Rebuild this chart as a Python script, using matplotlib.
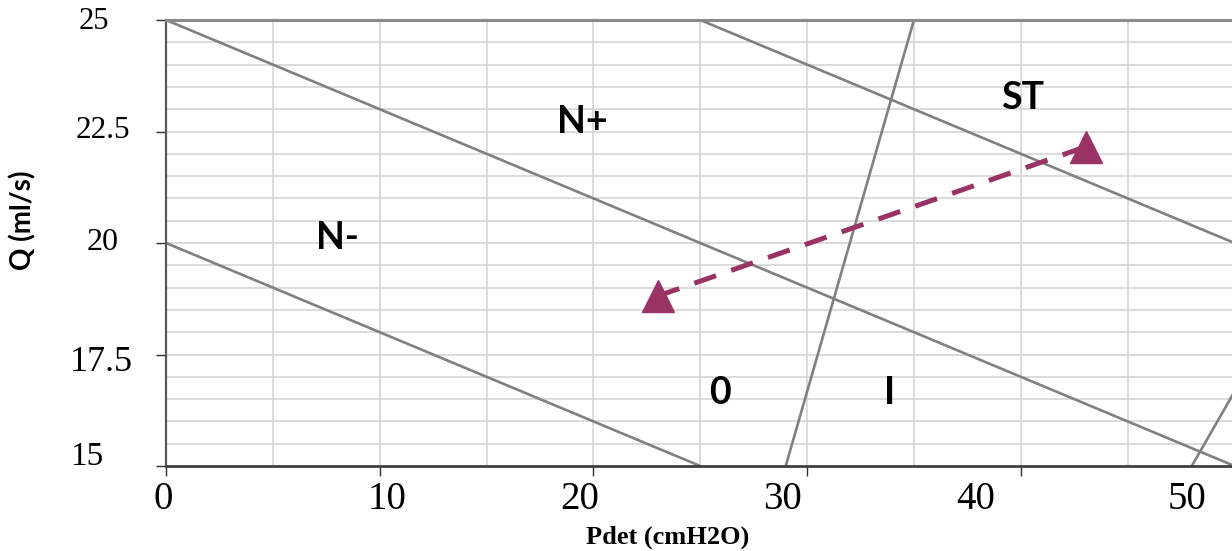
import numpy as np
import matplotlib.pyplot as plt
import matplotlib.transforms as mtransforms

# Datos del nomograma
x_ticks = [0, 10, 20, 30, 40]
x_ticklabels = ['0', '10', '20', '30', '40', '50']
y_ticks = [15, 17.5, 20, 22.5, 25]
y_ticklabels = ['15', '17.5', '20', '22.5', '25']

# Rectas de los límites entre zonas (x, y)
seg_x = [[0, 50], [0, 25], [25, 50], [29, 35], [48, 60]]
seg_y = [[25, 15], [20, 15], [25, 20], [15, 25], [15, 25]]

# Paciente: Pdet vs Q
pdet = [23.0, 43.05]
q = [18.81, 22.16]

# Etiquetas de zonas
zonas = ['N-', 'N+', 'ST', '0', 'I']
zonas_x = [8.0, 19.47, 40.1, 25.92, 33.88]
zonas_y = [20.11, 22.71, 23.25, 16.64, 16.64]

# posiciones de las etiquetas de los ejes (tal como aparecen en la imagen)
xlab_pos = [-0.15, 10.35, 19.35, 28.85, 37.9, 47.8]
ylab_px = [87, 101, 103, 103, 94]
ylab_pos = [15.2, 17.33, 20.0, 22.53, 24.96]
ylab_size = [24, 26, 23, 22.5, 22]

W, H = 1232, 551
fig = plt.figure(figsize=(W / 100, H / 100), dpi=100)
ax = fig.add_axes([166 / W, 1 - 466 / H, 1066 / W, 446 / H])

ax.set_xlim(0, 1066 / 21.37)
ax.set_ylim(15, 25)

# rejilla
for gx in np.arange(5, 50, 5):
    ax.axvline(gx, color='#d2d2d2', lw=1.1, zorder=0)
for gy in np.arange(15.5, 25, 0.5):
    ax.axhline(gy, color='#d2d2d2', lw=1.1, zorder=0)

for sx, sy in zip(seg_x, seg_y):
    ax.plot(sx, sy, color='#808080', lw=1.9, zorder=2)

ax.plot(pdet, q, color='#993366', lw=3.6, dashes=(4.6, 3.2), zorder=3)
ax.plot(pdet, q, linestyle='none', marker='^', ms=23, color='#993366', zorder=4)

for t, zx, zy in zip(zonas, zonas_x, zonas_y):
    ax.text(zx, zy, t, ha='center', va='center', fontsize=27,
            fontweight='bold', family='Lato', color='black')

# ejes
ax.spines['right'].set_visible(False)
ax.spines['top'].set_color('#8a8a8a')
ax.spines['top'].set_linewidth(2.2)
ax.spines['left'].set_color('#595959')
ax.spines['left'].set_linewidth(1.6)
ax.spines['bottom'].set_color('#404040')
ax.spines['bottom'].set_linewidth(2.0)

ax.set_xticks(x_ticks)
ax.set_xticklabels([])
ax.set_yticks(y_ticks)
ax.set_yticklabels([])
ax.tick_params(axis='both', direction='out', length=7.5, width=1.0, colors='#303030')

xtr = ax.get_xaxis_transform()
for lab, px in zip(x_ticklabels, xlab_pos):
    ax.text(px, -0.074, lab, transform=xtr, ha='center', va='center',
            fontsize=28, family='Liberation Serif', clip_on=False)

ytr = mtransforms.blended_transform_factory(fig.transFigure, ax.transData)
for lab, px, py, fs in zip(y_ticklabels, ylab_px, ylab_pos, ylab_size):
    ax.text(px / W, py, lab, transform=ytr, ha='center', va='center',
            fontsize=fs, family='Liberation Serif', clip_on=False)

fig.text(668 / W, 1 - 537 / H, 'Pdet (cmH2O)', ha='center', va='center',
         fontsize=19, fontweight='bold', family='Liberation Serif')
fig.text(23 / W, 1 - 220 / H, 'Q (ml/s)', ha='center', va='center', rotation=90,
         fontsize=20, fontweight='bold', family='Lato')

fig.savefig('out.png', dpi=100)
